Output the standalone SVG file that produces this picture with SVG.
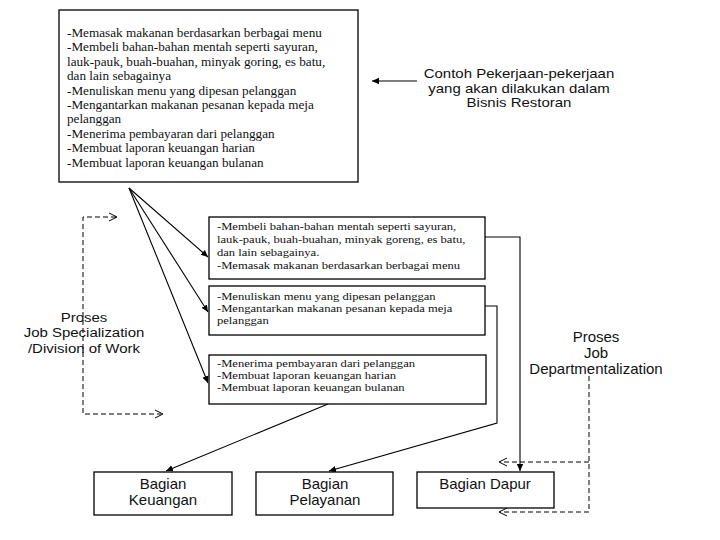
<svg xmlns="http://www.w3.org/2000/svg" width="720" height="540" viewBox="0 0 720 540">
<defs>
<style>
.box{fill:#fff;stroke:#000;stroke-width:1.3}
.ser{font-family:"Liberation Serif","DejaVu Serif",serif;fill:#111}
.top{font-size:13.2px}
.mid{font-size:10.5px}
.sans{font-family:"Liberation Sans",Arial,sans-serif;fill:#111;font-size:15px;text-anchor:middle}
.ln{fill:none;stroke:#000;stroke-width:1.1}
.dash{fill:none;stroke:#000;stroke-width:1;stroke-dasharray:5,3}
.chev{fill:none;stroke:#000;stroke-width:1}
</style>
<marker id="ah" markerWidth="8" markerHeight="8" refX="7" refY="4" orient="auto" markerUnits="userSpaceOnUse">
<path d="M0,0.8 L7,4 L0,7.2 Z" fill="#000"/>
</marker>
</defs>
<rect width="720" height="540" fill="#fff"/>

<g id="connectors">
<line class="ln" x1="129" y1="188" x2="208" y2="257" marker-end="url(#ah)"/>
<line class="ln" x1="129" y1="188" x2="208" y2="312" marker-end="url(#ah)"/>
<line class="ln" x1="129" y1="188" x2="208" y2="383" marker-end="url(#ah)"/>
<line class="ln" x1="417" y1="81" x2="372" y2="81" marker-end="url(#ah)"/>
<polyline class="ln" points="485,237 520,237 520,471" marker-end="url(#ah)"/>
<polyline class="ln" points="485,306 497,306 497,423 329,471" marker-end="url(#ah)"/>
<line class="ln" x1="328" y1="404" x2="166" y2="471" marker-end="url(#ah)"/>
<polyline class="dash" points="116,217 83,217 83,414 161,414"/>
<polyline class="chev" points="109,213 117,217 109,221"/>
<polyline class="chev" points="155,410 163,414 155,418"/>
<polyline class="dash" points="589,376 589,512 500,512"/>
<line class="dash" x1="589" y1="462" x2="500" y2="462"/>
<polyline class="chev" points="507,458 499,462 507,466"/>
<polyline class="chev" points="507,508 499,512 507,516"/>
</g>

<g id="node-top">
<rect class="box" x="59" y="10" width="299" height="172"/>
<text class="ser top">
<tspan x="67" y="37">-Memasak makanan berdasarkan berbagai menu</tspan>
<tspan x="67" y="51.4">-Membeli bahan-bahan mentah seperti sayuran,</tspan>
<tspan x="67" y="65.8">lauk-pauk, buah-buahan, minyak goring, es batu,</tspan>
<tspan x="67" y="80.2">dan lain sebagainya</tspan>
<tspan x="67" y="94.6">-Menuliskan menu yang dipesan pelanggan</tspan>
<tspan x="67" y="109">-Mengantarkan makanan pesanan kepada meja</tspan>
<tspan x="67" y="123.4">pelanggan</tspan>
<tspan x="67" y="137.8">-Menerima pembayaran dari pelanggan</tspan>
<tspan x="67" y="152.2">-Membuat laporan keuangan harian</tspan>
<tspan x="67" y="166.6">-Membuat laporan keuangan bulanan</tspan>
</text>
</g>

<g id="label-contoh">
<text class="sans" style="font-size:12.8px" transform="translate(519,0) scale(1.17,1) translate(-519,0)"><tspan x="519" y="78.5">Contoh Pekerjaan-pekerjaan</tspan><tspan x="519" y="93">yang akan dilakukan dalam</tspan><tspan x="519" y="107.5">Bisnis Restoran</tspan></text>
</g>

<g id="node-a">
<rect class="box" x="209" y="217" width="276" height="62"/>
<text class="ser mid" transform="translate(217,0) scale(1.2,1) translate(-217,0)"><tspan x="217" y="230">-Membeli bahan-bahan mentah seperti sayuran,</tspan><tspan x="217" y="243">lauk-pauk, buah-buahan, minyak goreng, es batu,</tspan><tspan x="217" y="256">dan lain sebagainya.</tspan><tspan x="217" y="269">-Memasak makanan berdasarkan berbagai menu</tspan></text>
</g>

<g id="node-b">
<rect class="box" x="209" y="286" width="276" height="49"/>
<text class="ser mid" transform="translate(217,0) scale(1.2,1) translate(-217,0)"><tspan x="217" y="300">-Menuliskan menu yang dipesan pelanggan</tspan><tspan x="217" y="312">-Mengantarkan makanan pesanan kepada meja</tspan><tspan x="217" y="324">pelanggan</tspan></text>
</g>

<g id="node-c">
<rect class="box" x="209" y="355" width="277" height="49"/>
<text class="ser mid" transform="translate(217,0) scale(1.2,1) translate(-217,0)"><tspan x="217" y="367">-Menerima pembayaran dari pelanggan</tspan><tspan x="217" y="379">-Membuat laporan keuangan harian</tspan><tspan x="217" y="391">-Membuat laporan keuangan bulanan</tspan></text>
</g>

<g id="label-specialization">
<text class="sans" style="font-size:13.5px" transform="translate(84,0) scale(1.11,1) translate(-84,0)"><tspan x="84" y="322">Proses</tspan><tspan x="84" y="337.5">Job Specialization</tspan><tspan x="84" y="353">/Division of Work</tspan></text>
</g>

<g id="label-departmentalization">
<text class="sans"><tspan x="596" y="342">Proses</tspan><tspan x="596" y="358">Job</tspan><tspan x="596" y="374">Departmentalization</tspan></text>
</g>

<g id="node-keuangan">
<rect class="box" x="94" y="472" width="138" height="43"/>
<text class="sans"><tspan x="163" y="489">Bagian</tspan><tspan x="163" y="505">Keuangan</tspan></text>
</g>

<g id="node-pelayanan">
<rect class="box" x="256" y="472" width="137" height="43"/>
<text class="sans"><tspan x="325" y="489">Bagian</tspan><tspan x="325" y="505">Pelayanan</tspan></text>
</g>

<g id="node-dapur">
<rect class="box" x="417" y="472" width="137" height="36"/>
<text class="sans"><tspan x="485" y="489">Bagian Dapur</tspan></text>
</g>
</svg>
